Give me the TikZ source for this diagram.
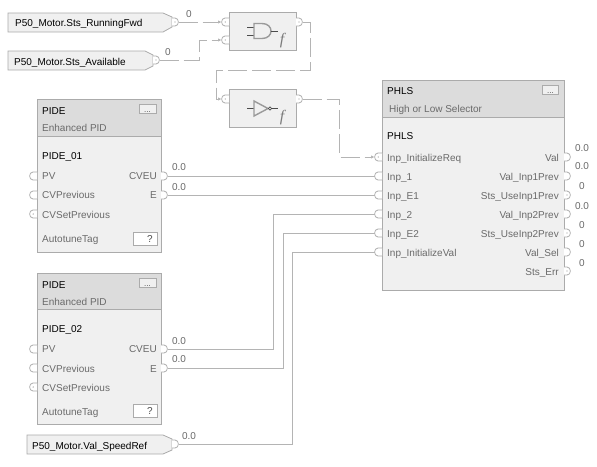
\documentclass[tikz,border=0pt]{standalone}
\usepackage{fontspec}
\setmainfont{Liberation Sans}
\newfontfamily\fnfont{Liberation Serif}
\usetikzlibrary{arrows.meta}
\definecolor{edge}{HTML}{ABABAB}
\definecolor{wirec}{HTML}{B4B4B4}
\definecolor{body}{HTML}{F0F0F0}
\definecolor{head}{HTML}{DCDCDC}
\definecolor{lab}{HTML}{6A6A6A}
\definecolor{sym}{HTML}{9A9A9A}
\tikzset{
  boxs/.style={draw=edge,fill=body,line width=0.8pt},
  heads/.style={draw=edge,fill=head,line width=0.8pt},
  btn/.style={draw=edge,fill=body,line width=0.7pt},
  qbox/.style={draw=edge,fill=white,line width=0.7pt},
  pinline/.style={draw=edge,line width=0.7pt,fill=white},
  wire/.style={draw=wirec,line width=0.8pt},
  dwire/.style={wire,dash pattern=on 19pt off 5pt},
  tipw/.style={-{Latex[length=3.5pt,width=3.5pt]}},
  lbl/.style={inner sep=0pt,anchor=base west,text=lab,font=\fontsize{10}{11}\selectfont},
  lblr/.style={inner sep=0pt,anchor=base east,text=lab,font=\fontsize{10}{11}\selectfont},
  ttl/.style={inner sep=0pt,anchor=base west,text=black,font=\fontsize{10}{11}\selectfont},
  val/.style={inner sep=0pt,anchor=base,text=lab,font=\fontsize{10}{11}\selectfont},
  symb/.style={draw=sym,line width=1.4pt},
  stub/.style={draw=black!70,line width=0.9pt},
  ffn/.style={inner sep=0pt,text=sym!80!black,font=\fnfont\itshape\fontsize{16}{16}\selectfont}
}
% pin glyphs: name, x of block edge, y
\newcommand{\pinL}[3]{\begin{scope}[shift={(#2,#3)}]
  \path[pinline] (0,-4) -- (-4,-4) .. controls (-8.5,-4) and (-8.5,4) .. (-4,4) -- (0,4);
  \coordinate (#1) at (-7.5,0);\end{scope}}
\newcommand{\pinR}[3]{\begin{scope}[shift={(#2,#3)}]
  \path[pinline] (0,-4) -- (3,-4) .. controls (7.5,-4) and (7.5,4) .. (3,4) -- (0,4);
  \coordinate (#1) at (6.5,0);\end{scope}}
\newcommand{\pinLd}[3]{\pinL{#1}{#2}{#3}\fill[sym] (#2-3.8,#3) circle (0.7pt);}
\newcommand{\pinRd}[3]{\pinR{#1}{#2}{#3}\fill[sym] (#2+3,#3) circle (0.7pt);}
% PIDE block: prefix, top y, header bottom y, bottom y, ? top y, instance text
\newcommand{\pideblock}[6]{
  \path[boxs] (37,#2) rectangle (161,#4);
  \path[heads] (37,#2) rectangle (161,#3);
  \path[btn] (139,#2+5) rectangle (156,#2+14);
  \node[lbl,text=black!70] (#1dots) at (144,#2+13) {\fontsize{8}{8}\selectfont ...};
  \node[ttl] (#1name) at (42,#2+15) {PIDE};
  \node[lbl] (#1desc) at (42,#2+32) {Enhanced PID};
  \node[ttl] (#1inst) at (42,#3+23) {#6};
  \path[qbox] (133,#5) rectangle (157,#5+13);
  \node[lblr,text=black!70] (#1q) at (153,#5+10) {?};
}
\begin{document}
\begin{tikzpicture}[x=1pt,y=-1pt]
\useasboundingbox (0,0) rectangle (597,466);
\fill[white] (0,0) rectangle (597,466);

% input tags
\path[boxs] (8,13) -- (163,13) -- (172,17) -- (172,27) -- (163,32) -- (8,32) -- cycle;
\node[ttl] (tagA) at (15,26) {P50\_Motor.Sts\_RunningFwd};
\path[boxs] (8,51) -- (145,51) -- (153,55) -- (153,66) -- (145,70) -- (8,70) -- cycle;
\node[ttl] (tagB) at (14,65) {P50\_Motor.Sts\_Available};
\path[boxs] (27,435) -- (163,435) -- (172,439) -- (172,450) -- (163,454) -- (27,454) -- cycle;
\node[ttl] (tagC) at (32,449) {P50\_Motor.Val\_SpeedRef};
\pinRd{tagAo}{172}{22}
\pinRd{tagBo}{153}{60}
\pinR{tagCo}{172}{444}

% AND block
\path[boxs] (229,12) rectangle (296,50);
\pinLd{andA}{229}{22}
\pinLd{andB}{229}{40}
\pinRd{ando}{296}{22}
\draw[stub] (247,27) -- (254,27);
\draw[stub] (247,35) -- (254,35);
\draw[symb] (254,23.5) -- (262,23.5) .. controls (274,23.5) and (274,38.5) .. (262,38.5) -- (254,38.5) -- cycle;
\draw[stub] (271,31) -- (278,31);
\node[ffn] (andf) at (282,41) {f};

% NOT block
\path[boxs] (229,89) rectangle (296,127);
\pinLd{notA}{229}{99}
\pinRd{noto}{296}{99}
\draw[stub] (247,108.5) -- (254,108.5);
\draw[symb] (254,101) -- (268,108.5) -- (254,116) -- cycle;
\draw[draw=black!70,line width=0.7pt,fill=white] (270,108.5) circle (1.6pt);
\draw[stub] (272,108.5) -- (278,108.5);
\node[ffn] (notf) at (282,118) {f};

% PIDE blocks
\pideblock{a}{99}{136}{252}{232}{PIDE\_01}
\pideblock{b}{273}{309}{424}{404}{PIDE\_02}
\node[lbl] (aPV) at (42,179) {PV};
\node[lbl] (aCP) at (42,198) {CVPrevious};
\node[lbl] (aCS) at (42,218) {CVSetPrevious};
\node[lbl] (aAT) at (42,242) {AutotuneTag};
\node[lblr] (aCV) at (157,179) {CVEU};
\node[lblr] (aE) at (157,198) {E};
\node[lbl] (bPV) at (42,352) {PV};
\node[lbl] (bCP) at (42,372) {CVPrevious};
\node[lbl] (bCS) at (42,391) {CVSetPrevious};
\node[lbl] (bAT) at (42,415) {AutotuneTag};
\node[lblr] (bCV) at (157,352) {CVEU};
\node[lblr] (bE) at (157,372) {E};
\pinL{aPVp}{37}{176}
\pinL{aCPp}{37}{195}
\pinLd{aCSp}{37}{214}
\pinR{aCVp}{161}{176}
\pinR{aEp}{161}{195}
\pinL{bPVp}{37}{349}
\pinL{bCPp}{37}{368}
\pinLd{bCSp}{37}{387}
\pinR{bCVp}{161}{349}
\pinR{bEp}{161}{368}

% PHLS block
\path[boxs] (382,80) rectangle (564,290);
\path[heads] (382,80) rectangle (564,117);
\path[btn] (542,85) rectangle (558,94);
\node[lbl,text=black!70] (pdots) at (547,93) {\fontsize{8}{8}\selectfont ...};
\node[ttl] (ptitle) at (387,94) {PHLS};
\node[lbl] (pdesc) at (389,112) {High or Low Selector};
\node[ttl] (pinst) at (387,139) {PHLS};
\node[lbl] (p1) at (387,161) {Inp\_InitializeReq};
\node[lbl] (p2) at (387,180) {Inp\_1};
\node[lbl] (p3) at (387,199) {Inp\_E1};
\node[lbl] (p4) at (387,218) {Inp\_2};
\node[lbl] (p5) at (387,237) {Inp\_E2};
\node[lbl] (p6) at (387,256) {Inp\_InitializeVal};
\node[lblr] (q1) at (559,161) {Val};
\node[lblr] (q2) at (559,180) {Val\_Inp1Prev};
\node[lblr] (q3) at (559,199) {Sts\_UseInp1Prev};
\node[lblr] (q4) at (559,218) {Val\_Inp2Prev};
\node[lblr] (q5) at (559,237) {Sts\_UseInp2Prev};
\node[lblr] (q6) at (559,256) {Val\_Sel};
\node[lblr] (q7) at (559,275) {Sts\_Err};
\pinLd{pA}{382}{157}
\pinL{pB}{382}{176}
\pinL{pC}{382}{195}
\pinL{pD}{382}{214}
\pinL{pE}{382}{233}
\pinL{pF}{382}{252}
\pinR{oA}{564}{157}
\pinR{oB}{564}{176}
\pinRd{oC}{564}{195}
\pinR{oD}{564}{214}
\pinRd{oE}{564}{233}
\pinR{oF}{564}{252}
\pinRd{oG}{564}{271}

% values
\node[val] (v1) at (582,151) {0.0};
\node[val] (v2) at (582,169.5) {0.0};
\node[val] (v3) at (582,189) {0};
\node[val] (v4) at (582,209) {0.0};
\node[val] (v5) at (582,228) {0};
\node[val] (v6) at (582,247) {0};
\node[val] (v7) at (582,266) {0};
\node[val] (v8) at (189,17) {0};
\node[val] (v9) at (168,55) {0};
\node[val] (v10) at (179,170) {0.0};
\node[val] (v11) at (179,190) {0.0};
\node[val] (v12) at (179,344) {0.0};
\node[val] (v13) at (179,362) {0.0};
\node[val] (v14) at (189,439) {0.0};

% connectors
\draw[dwire,tipw] (tagAo) -- (andA);
\draw[dwire,tipw] (tagBo) -- (199,60) -- (199,40) -- (andB);
\draw[dwire,tipw] (ando) -- (310.5,22) -- (310.5,70) -- (216,70) -- (216,99) -- (notA);
\draw[dwire,tipw] (noto) -- (339.5,99) -- (339.5,157) -- (pA);
\draw[wire] (aCVp) -- (pB);
\draw[wire] (aEp) -- (pC);
\draw[wire] (bCVp) -- (273,349) -- (273,214) -- (pD);
\draw[wire] (bEp) -- (283,368) -- (283,233) -- (pE);
\draw[wire] (tagCo) -- (292,444) -- (292,252) -- (pF);
\end{tikzpicture}
\end{document}
